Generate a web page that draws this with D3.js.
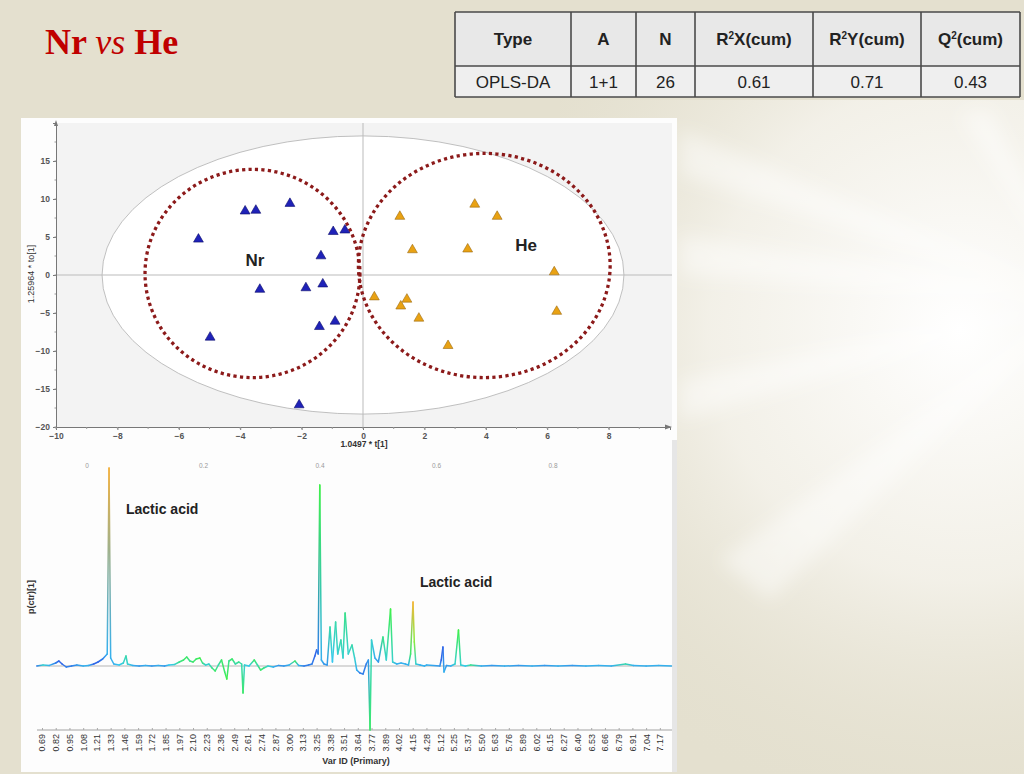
<!DOCTYPE html>
<html>
<head>
<meta charset="utf-8">
<script src="https://cdn.jsdelivr.net/npm/d3@7"></script>
<style>
body { margin: 0; }
svg { display: block; font-family: "Liberation Sans", Arial, sans-serif; }
</style>
</head>
<body>
<svg width="1024" height="774"></svg>
<script>
// ---- data ----
const tableHead = ["Type", "A", "N", "R²X(cum)", "R²Y(cum)", "Q²(cum)"];
const tableRow = ["OPLS-DA", "1+1", "26", "0.61", "0.71", "0.43"];

// score plot: t[1] and to[1] for each sample
const nrT  = [-5.36, -3.84, -3.49, -2.38, -0.97, -0.59, -1.37, -3.36, -1.86, -1.31, -1.42, -0.91, -4.98, -2.08];
const nrTo = [ 4.7,   8.4,   8.5,   9.4,   5.7,   5.9,   2.5,  -1.9,  -1.7,  -1.2,  -6.8,  -6.1,  -8.2, -17.1];
const heT  = [1.2, 3.64, 4.37, 1.61, 3.41, 6.23, 0.37, 1.43, 1.23, 1.82, 6.31, 2.77];
const heTo = [7.7, 9.3,  7.7,  3.3,  3.4,  0.4, -2.9, -3.2, -4.1, -5.7, -4.8, -9.3];
const scoreXTicks = [-10, -8, -6, -4, -2, 0, 2, 4, 6, 8];
const scoreYTicks = [-20, -15, -10, -5, 0, 5, 10, 15];

// loadings plot (ppm, p(ctr)[1], correlation used for colour)
const specPpm = [0.64,0.70,0.76,0.82,0.85,0.88,0.92,0.97,1.02,1.08,1.13,1.18,1.22,1.26,1.30,1.316,1.33,1.36,1.41,1.45,1.475,1.49,1.54,1.60,1.66,1.72,1.78,1.84,1.88,1.93,1.97,2.01,2.04,2.07,2.10,2.13,2.165,2.19,2.22,2.25,2.28,2.31,2.34,2.37,2.40,2.42,2.44,2.47,2.50,2.53,2.555,2.567,2.58,2.62,2.67,2.70,2.73,2.76,2.80,2.85,2.90,2.95,3.00,3.055,3.09,3.14,3.18,3.21,3.235,3.25,3.265,3.28,3.295,3.32,3.35,3.377,3.40,3.43,3.45,3.48,3.50,3.52,3.55,3.585,3.61,3.63,3.66,3.69,3.72,3.74,3.756,3.77,3.80,3.83,3.87,3.90,3.94,3.96,4.00,4.04,4.08,4.11,4.13,4.153,4.165,4.18,4.22,4.26,4.30,5.10,5.13,5.146,5.156,5.18,5.22,5.26,5.29,5.31,5.35,5.40,5.50,5.60,5.72,5.85,5.98,6.10,6.22,6.35,6.48,6.60,6.72,6.85,6.92,7.04,7.16,7.28];
const specVal = [0,0.5,0.3,1.5,2.5,1,-0.5,0,0.5,0,0.3,1,2,3.5,6,99,4,1,0.5,1.5,5,1,0.3,0,0.3,0,0.3,0,0.5,0.8,2,3,4.5,2.5,2,3.5,4,1.5,0.5,1,-1,-2.5,0.5,3,-3,-6.5,2.5,3.5,1,2,1,-13.5,0.5,0,3,0.5,-2,-1,0,-0.5,0.3,0,0.5,2.5,0.3,0,0.5,1,5,8,6,90.5,3,1,0.5,19.5,2,22,6,13,4,26.5,6,10.5,4,-2,-3.5,-4,1,3,-32,13,4,2,14.5,3,28.5,2,1,1.5,1,0.5,6,32,12,1,0.5,0,0.5,0,3,9.5,-3,0.3,0,1,18,0.5,0,0.5,0,0.2,0,0.2,0,0.2,0,0.2,0,0.2,0,1,0.2,0,0.3,0];
const specCor = [0.1,0.3,0.2,0.1,0.05,0.05,0.1,0.1,0.15,0.2,0.2,0.05,0.05,0.1,0.2,0.92,0.2,0.2,0.25,0.3,0.35,0.3,0.2,0.15,0.2,0.15,0.2,0.15,0.25,0.3,0.4,0.45,0.45,0.4,0.45,0.45,0.5,0.4,0.3,0.3,0.4,0.45,0.35,0.45,0.45,0.5,0.4,0.45,0.35,0.4,0.35,0.45,0.3,0.25,0.45,0.35,0.45,0.4,0.3,0.2,0.15,0.15,0.2,0.45,0.2,0.1,0.1,0.1,0.05,0.05,0.1,0.5,0.2,0.15,0.15,0.35,0.25,0.35,0.3,0.35,0.3,0.4,0.3,0.35,0.3,0.2,0.1,0.1,0.1,0.15,0.45,0.3,0.2,0.15,0.4,0.3,0.5,0.3,0.2,0.2,0.2,0.2,0.45,0.9,0.6,0.3,0.2,0.2,0.2,0.15,0.05,0.05,0.2,0.15,0.2,0.3,0.5,0.3,0.25,0.4,0.2,0.15,0.2,0.15,0.2,0.15,0.2,0.15,0.2,0.2,0.2,0.35,0.2,0.2,0.2,0.2];
const ppmTicks = [0.69,0.82,0.95,1.08,1.21,1.33,1.46,1.59,1.72,1.85,1.97,2.10,2.23,2.36,2.49,2.61,2.74,2.87,3.00,3.13,3.25,3.38,3.51,3.64,3.77,3.89,4.02,4.15,4.28,5.12,5.25,5.37,5.50,5.63,5.76,5.89,6.02,6.15,6.27,6.40,6.53,6.66,6.79,6.91,7.04,7.17];
const topTicks = [0, 0.2, 0.4, 0.6, 0.8];

const svg = d3.select("svg");
const defs = svg.append("defs");

// ---- slide background ----
svg.append("rect").attr("width", 1024).attr("height", 774).attr("fill", "#e4e0cf");
let glow = defs.append("radialGradient").attr("id", "glow")
    .attr("cx", 960).attr("cy", 330).attr("r", 500).attr("gradientUnits", "userSpaceOnUse");
glow.append("stop").attr("offset", "0%").attr("stop-color", "#ffffff").attr("stop-opacity", 1);
glow.append("stop").attr("offset", "50%").attr("stop-color", "#f5f3ec").attr("stop-opacity", 0.85);
glow.append("stop").attr("offset", "100%").attr("stop-color", "#e4e0cf").attr("stop-opacity", 0);
svg.append("rect").attr("x", 560).attr("y", 100).attr("width", 464).attr("height", 674).attr("fill", "url(#glow)");
defs.append("filter").attr("id", "soft").attr("x", "-20%").attr("y", "-20%").attr("width", "140%").attr("height", "140%")
    .append("feGaussianBlur").attr("stdDeviation", 9);
const rays = [
    [[1080, 300], [680, 130], [680, 175]],
    [[1080, 300], [680, 235], [680, 275]],
    [[1080, 300], [680, 380], [680, 420]],
    [[1080, 300], [720, 560], [770, 600]],
    [[1080, 300], [990, 110], [960, 115]]
];
svg.append("g").attr("filter", "url(#soft)").selectAll("path").data(rays).enter().append("path")
    .attr("d", d => "M" + d.join("L") + "Z")
    .attr("fill", "#ffffff").attr("opacity", 0.45);

// ---- title ----
let title = svg.append("text").attr("x", 45).attr("y", 54)
    .attr("font-family", "'Liberation Serif', 'Times New Roman', serif")
    .attr("font-size", 36).attr("fill", "#c00000").attr("font-weight", "bold");
title.append("tspan").text("Nr ");
title.append("tspan").attr("font-style", "italic").attr("font-weight", "normal").text("vs");
title.append("tspan").text(" He");

// ---- table ----
const colEdges = [455, 571, 636, 695, 813, 921, 1020];
const rowEdges = [12, 66, 97];
let tbl = svg.append("g");
tbl.append("rect").attr("x", colEdges[0]).attr("y", rowEdges[0])
    .attr("width", colEdges[6] - colEdges[0]).attr("height", rowEdges[1] - rowEdges[0]).attr("fill", "#e8e8e8");
tbl.append("rect").attr("x", colEdges[0]).attr("y", rowEdges[1])
    .attr("width", colEdges[6] - colEdges[0]).attr("height", rowEdges[2] - rowEdges[1]).attr("fill", "#efefef");
rowEdges.forEach(r => tbl.append("line").attr("x1", colEdges[0]).attr("x2", colEdges[6])
    .attr("y1", r).attr("y2", r).attr("stroke", "#4a4a4a").attr("stroke-width", 1.6));
colEdges.forEach(c => tbl.append("line").attr("x1", c).attr("x2", c)
    .attr("y1", rowEdges[0]).attr("y2", rowEdges[2]).attr("stroke", "#4a4a4a").attr("stroke-width", 1.6));

function cellText(str, i, y, bold) {
    let t = tbl.append("text").attr("x", (colEdges[i] + colEdges[i + 1]) / 2).attr("y", y)
        .attr("text-anchor", "middle").attr("font-size", 17).attr("fill", "#222")
        .attr("font-weight", bold ? "bold" : "normal");
    let parts = str.split("²");
    if (parts.length == 1) { t.text(str); return; }
    t.append("tspan").text(parts[0]);
    t.append("tspan").attr("font-size", 10).attr("dy", -6).text("2");
    t.append("tspan").attr("dy", 6).text(parts[1]);
}
tableHead.forEach((h, i) => cellText(h, i, 45, true));
tableRow.forEach((h, i) => cellText(h, i, 88, false));

// ---- panel ----
svg.append("rect").attr("x", 21).attr("y", 118).attr("width", 656).attr("height", 654).attr("fill", "#fdfdfd");
svg.append("rect").attr("x", 672).attr("y", 440).attr("width", 5).attr("height", 332).attr("fill", "#e6e6e6");

// ---- score plot ----
let x = d3.scaleLinear().domain([-10, 10]).range([56, 670]);
let y = d3.scaleLinear().domain([-20, 20]).range([427, 123]);

let score = svg.append("g");
score.append("rect").attr("x", 56).attr("y", 123).attr("width", 616).attr("height", 304).attr("fill", "#f3f3f3");

// Hotelling T2 ellipse
score.append("ellipse").attr("cx", x(0)).attr("cy", y(0))
    .attr("rx", x(8.5) - x(0)).attr("ry", y(0) - y(18.3))
    .attr("fill", "#ffffff").attr("stroke", "#b0b0b0").attr("stroke-width", 0.8);

// zero lines
score.append("line").attr("x1", 56).attr("x2", 672).attr("y1", y(0)).attr("y2", y(0)).attr("stroke", "#bbb");
score.append("line").attr("x1", x(0)).attr("x2", x(0)).attr("y1", 123).attr("y2", 427).attr("stroke", "#bbb");

// group circles
const groupRings = [
    {cx: -3.6, cy: 0.2, rx: 3.5, ry: 13.7},
    {cx: 3.95, cy: 1.25, rx: 4.1, ry: 14.75}
];
score.selectAll(".ring").data(groupRings).enter().append("ellipse")
    .attr("cx", d => x(d.cx)).attr("cy", d => y(d.cy))
    .attr("rx", d => x(d.cx + d.rx) - x(d.cx)).attr("ry", d => y(d.cy) - y(d.cy + d.ry))
    .attr("fill", "none").attr("stroke", "#8c1a1a").attr("stroke-width", 3.3)
    .attr("stroke-dasharray", "3.2 3.3");

let tri = d3.symbol().type(d3.symbolTriangle).size(42);
score.append("g").selectAll("path").data(nrT).enter().append("path")
    .attr("d", tri)
    .attr("transform", (d, i) => "translate(" + x(d) + "," + y(nrTo[i]) + ")")
    .attr("fill", "#1f22b8").attr("stroke", "#0c0c6a").attr("stroke-width", 0.6);
score.append("g").selectAll("path").data(heT).enter().append("path")
    .attr("d", tri)
    .attr("transform", (d, i) => "translate(" + x(d) + "," + y(heTo[i]) + ")")
    .attr("fill", "#e9a213").attr("stroke", "#9b6a12").attr("stroke-width", 0.6);

score.append("text").attr("x", 255).attr("y", 266).attr("text-anchor", "middle")
    .attr("font-size", 17).attr("font-weight", "bold").attr("fill", "#222").text("Nr");
score.append("text").attr("x", 526).attr("y", 251).attr("text-anchor", "middle")
    .attr("font-size", 17).attr("font-weight", "bold").attr("fill", "#222").text("He");

// axes
let yAxis = score.append("g").attr("transform", "translate(56,0)")
    .call(d3.axisLeft(y).tickValues(scoreYTicks).tickSize(3));
let xAxis = score.append("g").attr("transform", "translate(0,427)")
    .call(d3.axisBottom(x).tickValues(scoreXTicks).tickSize(3));
[xAxis, yAxis].forEach(a => {
    a.select(".domain").attr("stroke", "#777");
    a.selectAll(".tick line").attr("stroke", "#777");
    a.selectAll(".tick text").attr("font-size", 8.5).attr("font-weight", "bold").attr("fill", "#555");
});
score.append("g").selectAll("line").data(d3.range(-20, 20, 2.5)).enter().append("line")
    .attr("x1", 54.5).attr("x2", 56).attr("y1", d => y(d)).attr("y2", d => y(d)).attr("stroke", "#999");
score.append("g").selectAll("line").data(d3.range(-10, 10, 1)).enter().append("line")
    .attr("x1", d => x(d)).attr("x2", d => x(d)).attr("y1", 427).attr("y2", 429).attr("stroke", "#999");
score.append("path").attr("d", "M672,427 l-7,-2.5 l0,5 Z").attr("fill", "#777");
score.append("path").attr("d", "M56,120 l-2,6 l4,0 Z").attr("fill", "#777");

score.append("text").attr("x", 364).attr("y", 447).attr("text-anchor", "middle")
    .attr("font-size", 8.5).attr("font-weight", "bold").attr("fill", "#333").text("1.0497 * t[1]");
score.append("text").attr("transform", "translate(34,274) rotate(-90)").attr("text-anchor", "middle")
    .attr("font-size", 9).attr("fill", "#333").text("1.25964 * to[1]");

// ---- loadings plot ----
let px = d3.scaleLinear().domain(ppmTicks).range(ppmTicks.map((d, i) => 42 + i * 13.73));
let py = d3.scaleLinear().domain([-32, 99]).range([730, 468]);
let corColor = d3.scaleLinear().domain([0, 0.25, 0.5, 0.75, 1])
    .range(["#2f4fe6", "#35c8f0", "#3ff04a", "#f2e22e", "#f49a45"]);

let load = svg.append("g");
let topX = d3.scaleLinear().domain([0, 0.8]).range([87, 553]);
load.append("g").selectAll("text").data(topTicks).enter().append("text")
    .attr("x", d => topX(d)).attr("y", 468).attr("text-anchor", "middle")
    .attr("font-size", 6.5).attr("fill", "#9a9a9a").text(d => d);

load.append("line").attr("x1", 37).attr("x2", 672).attr("y1", py(0)).attr("y2", py(0))
    .attr("stroke", "#b5b5b5").attr("stroke-width", 1);

let pAxis = load.append("g").attr("transform", "translate(0,730)")
    .call(d3.axisBottom(px).tickValues(ppmTicks).tickSize(-2).tickFormat(d3.format(".2f")));
pAxis.select(".domain").attr("stroke", "#d0d0d0").attr("stroke-width", 2).attr("d", "M37,0H672");
pAxis.selectAll(".tick line").attr("stroke", "#aaa");
pAxis.selectAll(".tick text").attr("font-size", 9).attr("fill", "#333")
    .attr("transform", "rotate(-90)").attr("text-anchor", "end")
    .attr("x", -4).attr("y", 0).attr("dy", "0.32em");

// spectrum segments coloured by correlation
let segs = d3.range(specPpm.length - 1);
let grads = defs.selectAll(".seg").data(segs).enter().append("linearGradient")
    .attr("id", i => "sg" + i).attr("gradientUnits", "userSpaceOnUse")
    .attr("x1", i => px(specPpm[i])).attr("y1", i => py(specVal[i]))
    .attr("x2", i => px(specPpm[i + 1]) + 0.01).attr("y2", i => py(specVal[i + 1]) + 0.01);
grads.append("stop").attr("offset", "0%").attr("stop-color", i => corColor(specCor[i]));
grads.append("stop").attr("offset", "100%").attr("stop-color", i => corColor(specCor[i + 1]));
load.append("g").selectAll("line").data(segs).enter().append("line")
    .attr("x1", i => px(specPpm[i])).attr("y1", i => py(specVal[i]))
    .attr("x2", i => px(specPpm[i + 1])).attr("y2", i => py(specVal[i + 1]))
    .attr("stroke", i => "url(#sg" + i + ")").attr("stroke-width", 1.5)
    .attr("stroke-linecap", "round");

load.append("text").attr("x", 126).attr("y", 514).attr("font-size", 14).attr("font-weight", "bold")
    .attr("fill", "#222").text("Lactic acid");
load.append("text").attr("x", 420).attr("y", 587).attr("font-size", 14).attr("font-weight", "bold")
    .attr("fill", "#222").text("Lactic acid");
load.append("text").attr("x", 356).attr("y", 764).attr("text-anchor", "middle")
    .attr("font-size", 9).attr("font-weight", "bold").attr("fill", "#333").text("Var ID (Primary)");
load.append("text").attr("transform", "translate(34,597) rotate(-90)").attr("text-anchor", "middle")
    .attr("font-size", 9).attr("font-weight", "bold").attr("fill", "#333").text("p(ctr)[1]");
</script>
</body>
</html>
